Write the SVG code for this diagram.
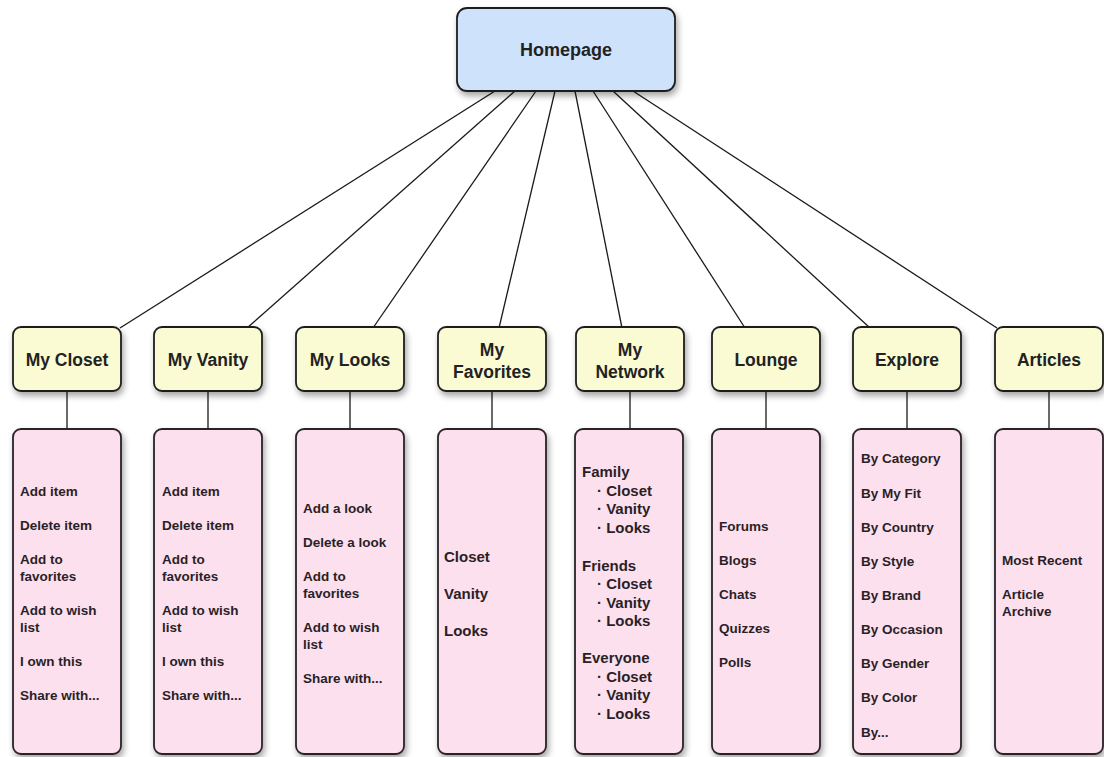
<svg xmlns="http://www.w3.org/2000/svg" width="1104" height="757" viewBox="0 0 1104 757">
  <defs>
    <filter id="shadow" x="-20%" y="-20%" width="150%" height="150%">
      <feDropShadow dx="2" dy="4" stdDeviation="3" flood-color="#000" flood-opacity="0.35"/>
    </filter>
    <style>
      .home { fill: #cfe2fb; stroke: #1e1e1e; stroke-width: 1.8; filter: url(#shadow); }
      .head { fill: #fafbd2; stroke: #1e1e1e; stroke-width: 1.8; filter: url(#shadow); }
      .list { fill: #fde0ee; stroke: #2a2228; stroke-width: 1.8; filter: url(#shadow); }
      .edge { stroke: #1a1a1a; stroke-width: 1.3; fill: none; }
      text { font-family: "Liberation Sans", Arial, sans-serif; font-weight: bold; fill: #222; }
      .t-home { font-size: 18px; text-anchor: middle; }
      .t-head { font-size: 17.5px; text-anchor: middle; }
      .t-item { font-size: 13.5px; fill: #2a1f26; }
      .t-big { font-size: 15px; fill: #2a1f26; }
    </style>
  </defs>

  <!-- connectors -->
  <g id="connectors">
    <line class="edge" x1="495" y1="91" x2="120" y2="328"/>
    <line class="edge" x1="515" y1="91" x2="247" y2="328"/>
    <line class="edge" x1="536" y1="91" x2="373" y2="328"/>
    <line class="edge" x1="555" y1="91" x2="499" y2="328"/>
    <line class="edge" x1="575" y1="91" x2="622" y2="328"/>
    <line class="edge" x1="593" y1="91" x2="745" y2="328"/>
    <line class="edge" x1="613" y1="91" x2="870" y2="328"/>
    <line class="edge" x1="633" y1="91" x2="997" y2="328"/>

    <line class="edge" x1="67" y1="391" x2="67" y2="429"/>
    <line class="edge" x1="208" y1="391" x2="208" y2="429"/>
    <line class="edge" x1="350" y1="391" x2="350" y2="429"/>
    <line class="edge" x1="492" y1="391" x2="492" y2="429"/>
    <line class="edge" x1="630" y1="391" x2="630" y2="429"/>
    <line class="edge" x1="766" y1="391" x2="766" y2="429"/>
    <line class="edge" x1="907" y1="391" x2="907" y2="429"/>
    <line class="edge" x1="1049" y1="391" x2="1049" y2="429"/>
  </g>

  <!-- root -->
  <g id="homepage">
    <rect class="home" x="457" y="8" width="218" height="83" rx="10"/>
    <text class="t-home" x="566" y="56">Homepage</text>
  </g>

  <!-- section headers -->
  <g id="my-closet">
    <rect class="head" x="13" y="327" width="108" height="64" rx="8"/>
    <text class="t-head" x="67" y="366">My Closet</text>
  </g>
  <g id="my-vanity">
    <rect class="head" x="154" y="327" width="108" height="64" rx="8"/>
    <text class="t-head" x="208" y="366">My Vanity</text>
  </g>
  <g id="my-looks">
    <rect class="head" x="296" y="327" width="108" height="64" rx="8"/>
    <text class="t-head" x="350" y="366">My Looks</text>
  </g>
  <g id="my-favorites">
    <rect class="head" x="438" y="327" width="108" height="64" rx="8"/>
    <text class="t-head" x="492" y="356">My</text>
    <text class="t-head" x="492" y="378">Favorites</text>
  </g>
  <g id="my-network">
    <rect class="head" x="576" y="327" width="108" height="64" rx="8"/>
    <text class="t-head" x="630" y="356">My</text>
    <text class="t-head" x="630" y="378">Network</text>
  </g>
  <g id="lounge">
    <rect class="head" x="712" y="327" width="108" height="64" rx="8"/>
    <text class="t-head" x="766" y="366">Lounge</text>
  </g>
  <g id="explore">
    <rect class="head" x="853" y="327" width="108" height="64" rx="8"/>
    <text class="t-head" x="907" y="366">Explore</text>
  </g>
  <g id="articles">
    <rect class="head" x="995" y="327" width="108" height="64" rx="8"/>
    <text class="t-head" x="1049" y="366">Articles</text>
  </g>

  <!-- feature lists -->
  <g id="closet-list">
    <rect class="list" x="13" y="429" width="108" height="325" rx="8"/>
    <text class="t-item" x="20" y="496">Add item</text>
    <text class="t-item" x="20" y="530">Delete item</text>
    <text class="t-item" x="20" y="564">Add to</text>
    <text class="t-item" x="20" y="581">favorites</text>
    <text class="t-item" x="20" y="615">Add to wish</text>
    <text class="t-item" x="20" y="632">list</text>
    <text class="t-item" x="20" y="666">I own this</text>
    <text class="t-item" x="20" y="700">Share with...</text>
  </g>
  <g id="vanity-list">
    <rect class="list" x="154" y="429" width="108" height="325" rx="8"/>
    <text class="t-item" x="162" y="496">Add item</text>
    <text class="t-item" x="162" y="530">Delete item</text>
    <text class="t-item" x="162" y="564">Add to</text>
    <text class="t-item" x="162" y="581">favorites</text>
    <text class="t-item" x="162" y="615">Add to wish</text>
    <text class="t-item" x="162" y="632">list</text>
    <text class="t-item" x="162" y="666">I own this</text>
    <text class="t-item" x="162" y="700">Share with...</text>
  </g>
  <g id="looks-list">
    <rect class="list" x="296" y="429" width="108" height="325" rx="8"/>
    <text class="t-item" x="303" y="513">Add a look</text>
    <text class="t-item" x="303" y="547">Delete a look</text>
    <text class="t-item" x="303" y="581">Add to</text>
    <text class="t-item" x="303" y="598">favorites</text>
    <text class="t-item" x="303" y="632">Add to wish</text>
    <text class="t-item" x="303" y="649">list</text>
    <text class="t-item" x="303" y="683">Share with...</text>
  </g>
  <g id="favorites-list">
    <rect class="list" x="438" y="429" width="108" height="325" rx="8"/>
    <text class="t-big" x="444" y="562">Closet</text>
    <text class="t-big" x="444" y="599">Vanity</text>
    <text class="t-big" x="444" y="636">Looks</text>
  </g>
  <g id="network-list">
    <rect class="list" x="575" y="429" width="108" height="325" rx="8"/>
    <text class="t-big" x="582" y="477">Family</text>
    <text class="t-big" x="597" y="496">· Closet</text>
    <text class="t-big" x="597" y="514">· Vanity</text>
    <text class="t-big" x="597" y="533">· Looks</text>
    <text class="t-big" x="582" y="571">Friends</text>
    <text class="t-big" x="597" y="589">· Closet</text>
    <text class="t-big" x="597" y="608">· Vanity</text>
    <text class="t-big" x="597" y="626">· Looks</text>
    <text class="t-big" x="582" y="663">Everyone</text>
    <text class="t-big" x="597" y="682">· Closet</text>
    <text class="t-big" x="597" y="700">· Vanity</text>
    <text class="t-big" x="597" y="719">· Looks</text>
  </g>
  <g id="lounge-list">
    <rect class="list" x="712" y="429" width="108" height="325" rx="8"/>
    <text class="t-item" x="719" y="531">Forums</text>
    <text class="t-item" x="719" y="565">Blogs</text>
    <text class="t-item" x="719" y="599">Chats</text>
    <text class="t-item" x="719" y="633">Quizzes</text>
    <text class="t-item" x="719" y="667">Polls</text>
  </g>
  <g id="explore-list">
    <rect class="list" x="853" y="429" width="108" height="325" rx="8"/>
    <text class="t-item" x="861" y="463">By Category</text>
    <text class="t-item" x="861" y="498">By My Fit</text>
    <text class="t-item" x="861" y="532">By Country</text>
    <text class="t-item" x="861" y="566">By Style</text>
    <text class="t-item" x="861" y="600">By Brand</text>
    <text class="t-item" x="861" y="634">By Occasion</text>
    <text class="t-item" x="861" y="668">By Gender</text>
    <text class="t-item" x="861" y="702">By Color</text>
    <text class="t-item" x="861" y="737">By...</text>
  </g>
  <g id="articles-list">
    <rect class="list" x="995" y="429" width="108" height="325" rx="8"/>
    <text class="t-item" x="1002" y="565">Most Recent</text>
    <text class="t-item" x="1002" y="599">Article</text>
    <text class="t-item" x="1002" y="616">Archive</text>
  </g>
</svg>
